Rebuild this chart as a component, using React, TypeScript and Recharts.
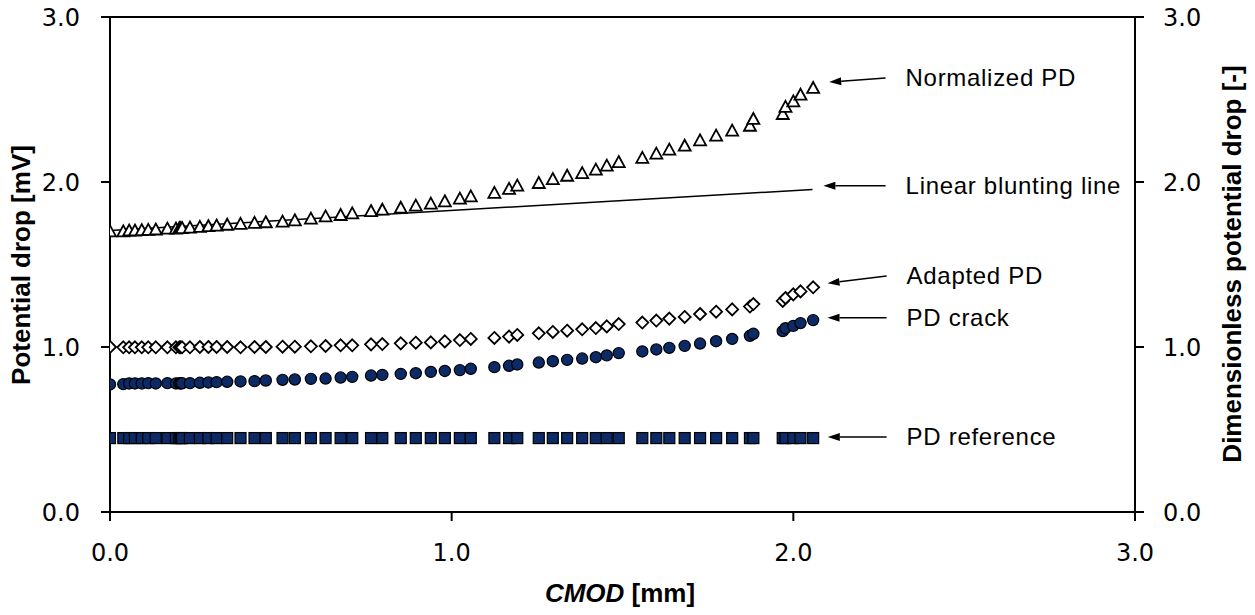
import React from 'react';
import { ScatterChart, Scatter, XAxis, YAxis, ReferenceLine } from 'recharts';

// CMOD [mm]
const cmod = [
  0.000, 0.039, 0.056, 0.073, 0.093, 0.112, 0.134, 0.168, 0.193, 0.203, 0.207, 0.211,
  0.234, 0.263, 0.288, 0.312, 0.343, 0.382, 0.423, 0.456, 0.505, 0.541,
  0.588, 0.631, 0.675, 0.709, 0.764, 0.797, 0.851, 0.895, 0.939, 0.980,
  1.024, 1.056, 1.125, 1.168, 1.192, 1.255, 1.296, 1.338, 1.382, 1.422,
  1.454, 1.489, 1.558, 1.599, 1.637, 1.682, 1.727, 1.774, 1.821, 1.873,
  1.883, 1.969, 1.977, 2.000, 2.021, 2.058,
];

const pdReference = [
  0.448, 0.448, 0.448, 0.448, 0.448, 0.448, 0.448, 0.448, 0.448, 0.448, 0.448, 0.448,
  0.448, 0.448, 0.448, 0.448, 0.448, 0.448, 0.448, 0.448, 0.448, 0.448,
  0.448, 0.448, 0.448, 0.448, 0.448, 0.448, 0.448, 0.448, 0.448, 0.448,
  0.448, 0.448, 0.448, 0.448, 0.448, 0.448, 0.448, 0.448, 0.448, 0.448,
  0.448, 0.448, 0.448, 0.448, 0.448, 0.448, 0.448, 0.448, 0.448, 0.448,
  0.448, 0.448, 0.448, 0.448, 0.448, 0.448,
];

const pdCrack = [
  0.773, 0.775, 0.779, 0.779, 0.779, 0.781, 0.779, 0.781, 0.779, 0.780, 0.779, 0.780,
  0.781, 0.783, 0.785, 0.787, 0.789, 0.791, 0.793, 0.797, 0.801, 0.803,
  0.807, 0.809, 0.815, 0.819, 0.827, 0.831, 0.837, 0.841, 0.849, 0.855,
  0.860, 0.868, 0.878, 0.886, 0.894, 0.906, 0.914, 0.922, 0.930, 0.938,
  0.949, 0.963, 0.973, 0.985, 0.995, 1.007, 1.021, 1.035, 1.049, 1.068,
  1.080, 1.096, 1.114, 1.128, 1.145, 1.163,
];

const adaptedPd = [
  1.000, 0.998, 0.998, 0.998, 0.998, 0.998, 0.998, 0.998, 0.998, 0.998, 0.998, 0.998,
  0.998, 1.000, 1.000, 1.000, 1.000, 0.998, 1.000, 1.000, 1.002, 1.002,
  1.004, 1.006, 1.010, 1.010, 1.016, 1.018, 1.022, 1.026, 1.028, 1.034,
  1.042, 1.049, 1.055, 1.063, 1.073, 1.083, 1.091, 1.099, 1.107, 1.115,
  1.125, 1.139, 1.148, 1.160, 1.172, 1.182, 1.200, 1.214, 1.228, 1.245,
  1.260, 1.279, 1.297, 1.319, 1.337, 1.362,
];

const normalizedPd = [
  1.698, 1.698, 1.703, 1.703, 1.705, 1.707, 1.709, 1.714, 1.715, 1.717, 1.718, 1.718,
  1.721, 1.725, 1.729, 1.733, 1.738, 1.743, 1.749, 1.753, 1.757, 1.765,
  1.775, 1.789, 1.797, 1.807, 1.821, 1.829, 1.841, 1.854, 1.866, 1.880,
  1.896, 1.910, 1.931, 1.955, 1.975, 1.991, 2.015, 2.035, 2.051, 2.072,
  2.096, 2.118, 2.143, 2.169, 2.193, 2.217, 2.249, 2.278, 2.308, 2.338,
  2.379, 2.409, 2.452, 2.486, 2.526, 2.567,
];

const bluntX = [0, 2.056];
const bluntY = [1.706, 1.955];

const axisTicks = [0, 1, 2, 3];

const annotationLabels = ['Normalized PD', 'Linear blunting line', 'Adapted PD', 'PD crack', 'PD reference'];
const annotationTail = [
  { x: 2.27, y: 2.630 },
  { x: 2.27, y: 1.977 },
  { x: 2.273, y: 1.430 },
  { x: 2.273, y: 1.177 },
  { x: 2.273, y: 0.455 },
];
const annotationTip = [
  { x: 2.105, y: 2.606 },
  { x: 2.088, y: 1.977 },
  { x: 2.100, y: 1.386 },
  { x: 2.100, y: 1.177 },
  { x: 2.101, y: 0.455 },
];

const NAVY = '#0b2a66';
const SANS = '"Liberation Sans", Arial, sans-serif';
const TICKFONT = '"DejaVu Sans", Verdana, sans-serif';

const toPoints = (xs: number[], ys: number[]) => xs.map((x, i) => ({ x, y: ys[i] }));

const Square = (p: any) => (
  <rect x={p.cx - 5.5} y={p.cy - 5.5} width={11} height={11} fill={NAVY} stroke="#000" strokeWidth={1.2} />
);
const Dot = (p: any) => (
  <circle cx={p.cx} cy={p.cy} r={5.6} fill={NAVY} stroke="#000" strokeWidth={1.2} />
);
const Diamond = (p: any) => (
  <polygon
    points={`${p.cx},${p.cy - 6} ${p.cx + 6},${p.cy} ${p.cx},${p.cy + 6} ${p.cx - 6},${p.cy}`}
    fill="#fff"
    stroke="#000"
    strokeWidth={1.8}
  />
);
const Triangle = (p: any) => (
  <polygon
    points={`${p.cx},${p.cy - 6.5} ${p.cx + 6},${p.cy + 4.5} ${p.cx - 6},${p.cy + 4.5}`}
    fill="#fff"
    stroke="#000"
    strokeWidth={1.8}
  />
);
const NoShape = () => <g />;

const makeArrow = (label: string) => (p: any) => {
  const { x1, y1, x2, y2 } = p;
  const dx = x2 - x1;
  const dy = y2 - y1;
  const len = Math.hypot(dx, dy) || 1;
  const ux = dx / len;
  const uy = dy / len;
  const hl = 12;
  const hw = 4;
  const bx = x2 - ux * hl;
  const by = y2 - uy * hl;
  const pts = `${x2},${y2} ${bx - uy * hw},${by + ux * hw} ${bx + uy * hw},${by - ux * hw}`;
  return (
    <g>
      <line x1={x1} y1={y1} x2={bx} y2={by} stroke="#000" strokeWidth={1.5} />
      <polygon points={pts} fill="#000" />
      <text
        x={x1 + 20}
        y={y1}
        dy="0.35em"
        fontFamily={SANS}
        fontSize={24}
        letterSpacing={0.7}
        fill="#000"
      >
        {label}
      </text>
    </g>
  );
};

const tickStyle = { fontFamily: TICKFONT, fontSize: 24, fill: '#000' };

export default function App() {
  return (
    <div style={{ position: 'absolute', left: 0, top: 0, width: 1255, height: 615, background: '#fff' }}>
      <ScatterChart width={1255} height={615} margin={{ top: 17, right: 50, bottom: 43, left: 40 }}>
        <XAxis
          type="number"
          dataKey="x"
          domain={[0, 3]}
          ticks={axisTicks}
          allowDataOverflow
          tickFormatter={(v: number) => v.toFixed(1)}
          height={60}
          axisLine={{ stroke: '#000', strokeWidth: 2 }}
          tickLine={{ stroke: '#000', strokeWidth: 2 }}
          tickSize={9}
          tickMargin={23}
          tick={tickStyle}
        />
        <YAxis
          yAxisId="left"
          type="number"
          dataKey="y"
          domain={[0, 3]}
          ticks={axisTicks}
          allowDataOverflow
          tickFormatter={(v: number) => v.toFixed(1)}
          width={70}
          axisLine={{ stroke: '#000', strokeWidth: 2 }}
          tickLine={{ stroke: '#000', strokeWidth: 2 }}
          tickSize={9}
          tickMargin={21}
          tick={tickStyle}
        />
        <YAxis
          yAxisId="right"
          orientation="right"
          type="number"
          dataKey="y"
          domain={[0, 3]}
          ticks={axisTicks}
          allowDataOverflow
          tickFormatter={(v: number) => v.toFixed(1)}
          width={70}
          axisLine={{ stroke: '#000', strokeWidth: 2 }}
          tickLine={{ stroke: '#000', strokeWidth: 2 }}
          tickSize={9}
          tickMargin={19}
          tick={{ ...tickStyle, textAnchor: 'start' }}
        />
        <ReferenceLine yAxisId="left" y={3} stroke="#000" strokeWidth={2} />
        <Scatter
          yAxisId="left"
          data={toPoints(bluntX, bluntY)}
          line={{ stroke: '#000', strokeWidth: 1.5 }}
          shape={NoShape}
          isAnimationActive={false}
        />
        <Scatter yAxisId="left" data={toPoints(cmod, pdReference)} shape={Square} isAnimationActive={false} />
        <Scatter yAxisId="left" data={toPoints(cmod, pdCrack)} shape={Dot} isAnimationActive={false} />
        <Scatter yAxisId="left" data={toPoints(cmod, adaptedPd)} shape={Diamond} isAnimationActive={false} />
        <Scatter yAxisId="left" data={toPoints(cmod, normalizedPd)} shape={Triangle} isAnimationActive={false} />
        {annotationLabels.map((label, i) => (
          <ReferenceLine
            key={label}
            yAxisId="left"
            segment={[annotationTail[i], annotationTip[i]]}
            shape={makeArrow(label)}
            ifOverflow="visible"
          />
        ))}
      </ScatterChart>
      <svg
        width={1255}
        height={615}
        style={{ position: 'absolute', left: 0, top: 0, pointerEvents: 'none' }}
      >
        <text
          transform="translate(30,265) rotate(-90)"
          textAnchor="middle"
          fontFamily={SANS}
          fontWeight="bold"
          fontSize={26}
          fill="#000"
        >
          Potential drop [mV]
        </text>
        <text
          transform="translate(1241,264) rotate(-90)"
          textAnchor="middle"
          fontFamily={SANS}
          fontWeight="bold"
          fontSize={26}
          fill="#000"
        >
          Dimensionless potential drop [-]
        </text>
        <text x={620} y={602} textAnchor="middle" fontFamily={SANS} fontWeight="bold" fontSize={26} fill="#000">
          <tspan fontStyle="italic">CMOD</tspan> [mm]
        </text>
      </svg>
    </div>
  );
}
